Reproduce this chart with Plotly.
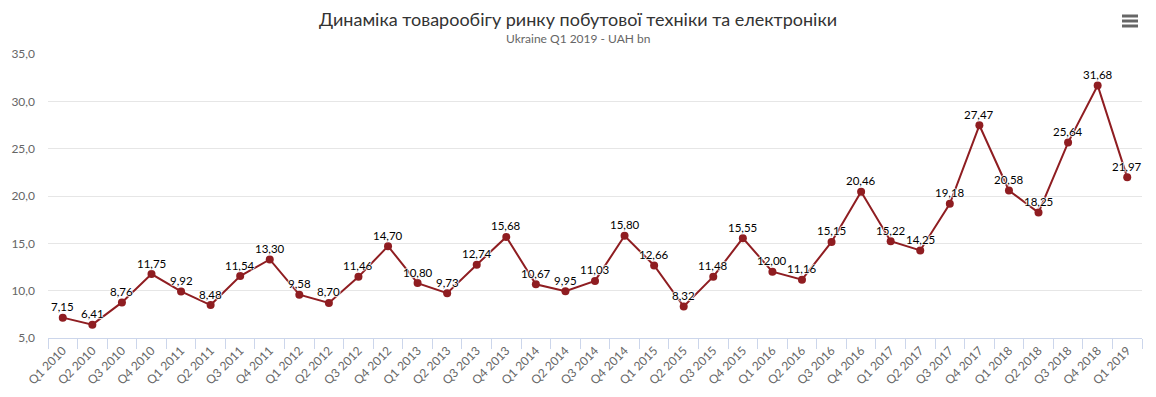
import plotly.graph_objects as go

categories = ["Q1 2010", "Q2 2010", "Q3 2010", "Q4 2010",
              "Q1 2011", "Q2 2011", "Q3 2011", "Q4 2011",
              "Q1 2012", "Q2 2012", "Q3 2012", "Q4 2012",
              "Q1 2013", "Q2 2013", "Q3 2013", "Q4 2013",
              "Q1 2014", "Q2 2014", "Q3 2014", "Q4 2014",
              "Q1 2015", "Q2 2015", "Q3 2015", "Q4 2015",
              "Q1 2016", "Q2 2016", "Q3 2016", "Q4 2016",
              "Q1 2017", "Q2 2017", "Q3 2017", "Q4 2017",
              "Q1 2018", "Q2 2018", "Q3 2018", "Q4 2018",
              "Q1 2019"]
values = [7.15, 6.41, 8.76, 11.75,
          9.92, 8.48, 11.54, 13.30,
          9.58, 8.70, 11.46, 14.70,
          10.80, 9.73, 12.74, 15.68,
          10.67, 9.95, 11.03, 15.80,
          12.66, 8.32, 11.48, 15.55,
          12.00, 11.16, 15.15, 20.46,
          15.22, 14.25, 19.18, 27.47,
          20.58, 18.25, 25.64, 31.68,
          21.97]
y_ticks = [5, 10, 15, 20, 25, 30, 35]

title = "Динаміка товарообігу ринку побутової техніки та електроніки"
subtitle = "Ukraine Q1 2019 - UAH bn"

FONT = "Lato, 'Open Sans', sans-serif"
LINE = "#8f1d21"
OUTLINE = "1px 0 1px #fff, -1px 0 1px #fff, 0 1px 1px #fff, 0 -1px 1px #fff"

OFF = 8  # page body margin
W, H = 1156 - OFF, 397 - OFF
ML, MR, MT, MB = 48 - OFF, 14, 54 - OFF, 59

fig = go.Figure()
fig.add_trace(go.Scatter(
    x=categories, y=values,
    mode="lines+markers",
    line=dict(color=LINE, width=2),
    marker=dict(color=LINE, size=8),
    cliponaxis=False,
    hoverinfo="x+y",
))

# data labels
for c, v in zip(categories, values):
    fig.add_annotation(
        x=c, y=v, xref="x", yref="y",
        text=f"{v:.2f}".replace(".", ","),
        showarrow=False, xanchor="center", yanchor="middle", yshift=11,
        font=dict(family=FONT, size=11.5, color="#000000", shadow=OUTLINE),
    )

fig.update_layout(
    width=W, height=H,
    margin=dict(l=ML, r=MR, t=MT, b=MB),
    paper_bgcolor="white", plot_bgcolor="white",
    separators=", ",
    showlegend=False,
    font=dict(family=FONT, color="#666666"),
    xaxis=dict(
        type="category",
        tickson="boundaries",
        ticks="outside", ticklen=10, tickcolor="#ccd6eb",
        showline=True, linecolor="#ccd6eb", linewidth=1,
        showgrid=False,
        tickangle=-45,
        tickfont=dict(family=FONT, size=12, color="#666666"),
        range=[-0.5, len(categories) - 0.5],
        automargin=False,
    ),
    yaxis=dict(
        range=[5, 35],
        tickvals=y_ticks,
        tickformat=".1f",
        showgrid=True, gridcolor="#e6e6e6", gridwidth=1,
        zeroline=False, showline=False,
        tickfont=dict(family=FONT, size=12, color="#666666"),
        ticks="", ticklabelstandoff=12,
        automargin=False,
    ),
)

# helpers: convert window pixel positions to paper coordinates
def px_y(py):
    return (H - MB - (py - OFF)) / (H - MT - MB)

def px_x(px):
    return ((px - OFF) - ML) / (W - ML - MR)

fig.add_annotation(text=title, xref="paper", yref="paper",
                   x=px_x(578), y=px_y(19), xanchor="center", yanchor="middle",
                   showarrow=False, font=dict(family=FONT, size=18, color="#333333"))
fig.add_annotation(text=subtitle, xref="paper", yref="paper",
                   x=px_x(578), y=px_y(39), xanchor="center", yanchor="middle",
                   showarrow=False, font=dict(family=FONT, size=12, color="#666666"))

# hamburger menu icon
for py in [16, 21, 26]:
    yp = px_y(py)
    fig.add_shape(type="line", xref="paper", yref="paper",
                  x0=px_x(1122), x1=px_x(1138),
                  y0=yp, y1=yp, line=dict(color="#666666", width=3))

fig.write_html("out.html")
